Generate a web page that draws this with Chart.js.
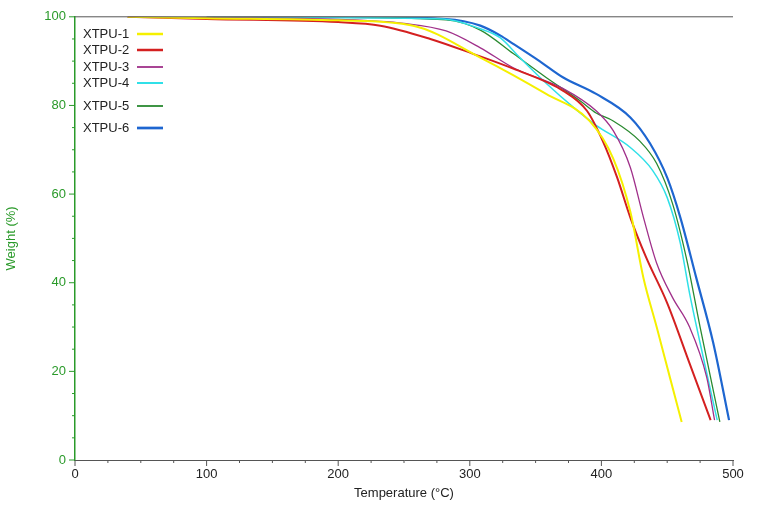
<!DOCTYPE html>
<html>
<head>
<meta charset="utf-8">
<script src="https://cdn.jsdelivr.net/npm/chart.js@4"></script>
<style>
  body { margin: 0; background: #fff; }
  #wrap { width: 769px; height: 511px; }
</style>
</head>
<body>
<div id="wrap"><canvas id="tga"></canvas></div>
<script>
// temperature (°C) and weight (%)
const names = ['XTPU-1', 'XTPU-2', 'XTPU-3', 'XTPU-4', 'XTPU-5', 'XTPU-6'];
const colors = ['#f5f000', '#d42020', '#a0308a', '#30e0e8', '#2a8a30', '#1e66d0'];
const widths = [2, 2, 1.3, 1.5, 1.3, 2.2];

const t1 = [40, 100, 200, 257, 308, 358, 391, 409, 422, 432, 442, 452, 461];
const w1 = [100, 99.7, 99.2, 98, 90.8, 82.6, 76.5, 68, 56, 41, 30, 18.7, 8.6];
const t2 = [40, 100, 200, 232, 270, 302, 333, 371, 389, 401, 412, 422, 434, 450, 467, 483];
const w2 = [100, 99.5, 98.8, 98, 95, 91.7, 88.3, 83.3, 78.8, 72, 63.7, 54.7, 45.7, 35.4, 21.8, 9];
const t3 = [40, 100, 200, 250, 282, 308, 333, 371, 396, 409, 422, 432, 442, 454, 467, 480, 486];
const w3 = [100, 99.8, 99.4, 98.5, 96.8, 93, 88.5, 83.8, 78.8, 74.3, 66, 54.7, 44.4, 36.7, 30, 18.7, 9];
const t4 = [100, 200, 280, 308, 323, 338, 358, 379, 396, 422, 439, 450, 460, 467, 475, 488];
const w4 = [99.9, 99.8, 99.5, 97.3, 95.3, 90.8, 85, 79.5, 75.5, 70.5, 65.3, 59.2, 48.9, 37.6, 26.4, 9];
const t5 = [100, 200, 282, 308, 333, 358, 384, 396, 409, 429, 442, 454, 465, 475, 490];
const w5 = [100, 99.9, 99.3, 97, 91.7, 86.3, 81, 78.3, 76.5, 72, 66.9, 57.9, 45, 30, 8.6];
const t6 = [100, 200, 282, 308, 323, 333, 353, 371, 396, 422, 437, 450, 460, 472, 485, 497];
const w6 = [100, 100, 99.5, 98, 95.8, 93.9, 90, 86.3, 82.6, 77.3, 71.4, 63.7, 54.7, 41.2, 26.4, 9];

const temps = [t1, t2, t3, t4, t5, t6];
const weights = [w1, w2, w3, w4, w5, w6];

const xTicks = [0, 100, 200, 300, 400, 500];
const yTicks = [0, 20, 40, 60, 80, 100];

const datasets = names.map((n, i) => ({
    label: n,
    data: temps[i].map((t, j) => ({ x: t, y: weights[i][j] })),
    borderColor: colors[i],
    borderWidth: widths[i],
    pointRadius: 0,
    cubicInterpolationMode: 'monotone',
    fill: false
}));

// minor ticks, top line and legend inside the plot
const decor = {
    id: 'decor',
    afterDraw(chart) {
        const ctx = chart.ctx;
        const xs = chart.scales.x, ys = chart.scales.y;
        const a = chart.chartArea;
        ctx.save();
        ctx.lineWidth = 1;
        ctx.strokeStyle = '#555';
        ctx.beginPath();
        ctx.moveTo(a.left, a.top); ctx.lineTo(a.right, a.top);
        for (let v = 0; v <= 500; v += 25) {
            const px = xs.getPixelForValue(v);
            ctx.moveTo(px, a.bottom); ctx.lineTo(px, a.bottom + (v % 100 === 0 ? 6 : 3));
        }
        ctx.stroke();
        ctx.strokeStyle = '#2a9a2a';
        ctx.beginPath();
        for (let v = 0; v <= 100; v += 5) {
            const py = ys.getPixelForValue(v);
            ctx.moveTo(a.left, py); ctx.lineTo(a.left - (v % 20 === 0 ? 6 : 3), py);
        }
        ctx.stroke();
        const rows = [34, 50, 67, 83, 106, 128];
        ctx.font = '13px Arial, "Liberation Sans", sans-serif';
        ctx.textBaseline = 'middle';
        names.forEach((n, i) => {
            ctx.fillStyle = '#222';
            ctx.fillText(n, 83, rows[i]);
            ctx.strokeStyle = colors[i];
            ctx.lineWidth = widths[i] + 0.5;
            ctx.beginPath();
            ctx.moveTo(137, rows[i]); ctx.lineTo(163, rows[i]);
            ctx.stroke();
        });
        ctx.restore();
    }
};

new Chart(document.getElementById('tga'), {
    type: 'line',
    data: { datasets: datasets },
    options: {
        responsive: true,
        maintainAspectRatio: false,
        animation: false,
        layout: { padding: { top: 16, right: 36 } },
        plugins: { legend: { display: false }, tooltip: { enabled: false } },
        scales: {
            x: {
                type: 'linear', min: 0, max: 500,
                afterBuildTicks: (s) => { s.ticks = xTicks.map(v => ({ value: v })); },
                afterFit: (s) => { s.height = 51; },
                grid: { display: false, drawTicks: false },
                border: { color: '#555', width: 1 },
                ticks: { color: '#222', padding: 7, font: { size: 13, family: 'Arial, "Liberation Sans"' } },
                title: { display: true, text: 'Temperature (°C)', color: '#222', padding: { top: 4, bottom: 10 },
                         font: { size: 13, family: 'Arial, "Liberation Sans"' } }
            },
            y: {
                min: 0, max: 100,
                afterBuildTicks: (s) => { s.ticks = yTicks.map(v => ({ value: v })); },
                afterFit: (s) => { s.width = 75; },
                grid: { display: false, drawTicks: false },
                border: { color: '#2a9a2a', width: 1.5 },
                ticks: { color: '#2a9a2a', padding: 9, font: { size: 13, family: 'Arial, "Liberation Sans"' } },
                title: { display: true, text: 'Weight (%)', color: '#2a9a2a', padding: 4,
                         font: { size: 13, family: 'Arial, "Liberation Sans"' } }
            }
        }
    },
    plugins: [decor]
});
</script>
</body>
</html>
